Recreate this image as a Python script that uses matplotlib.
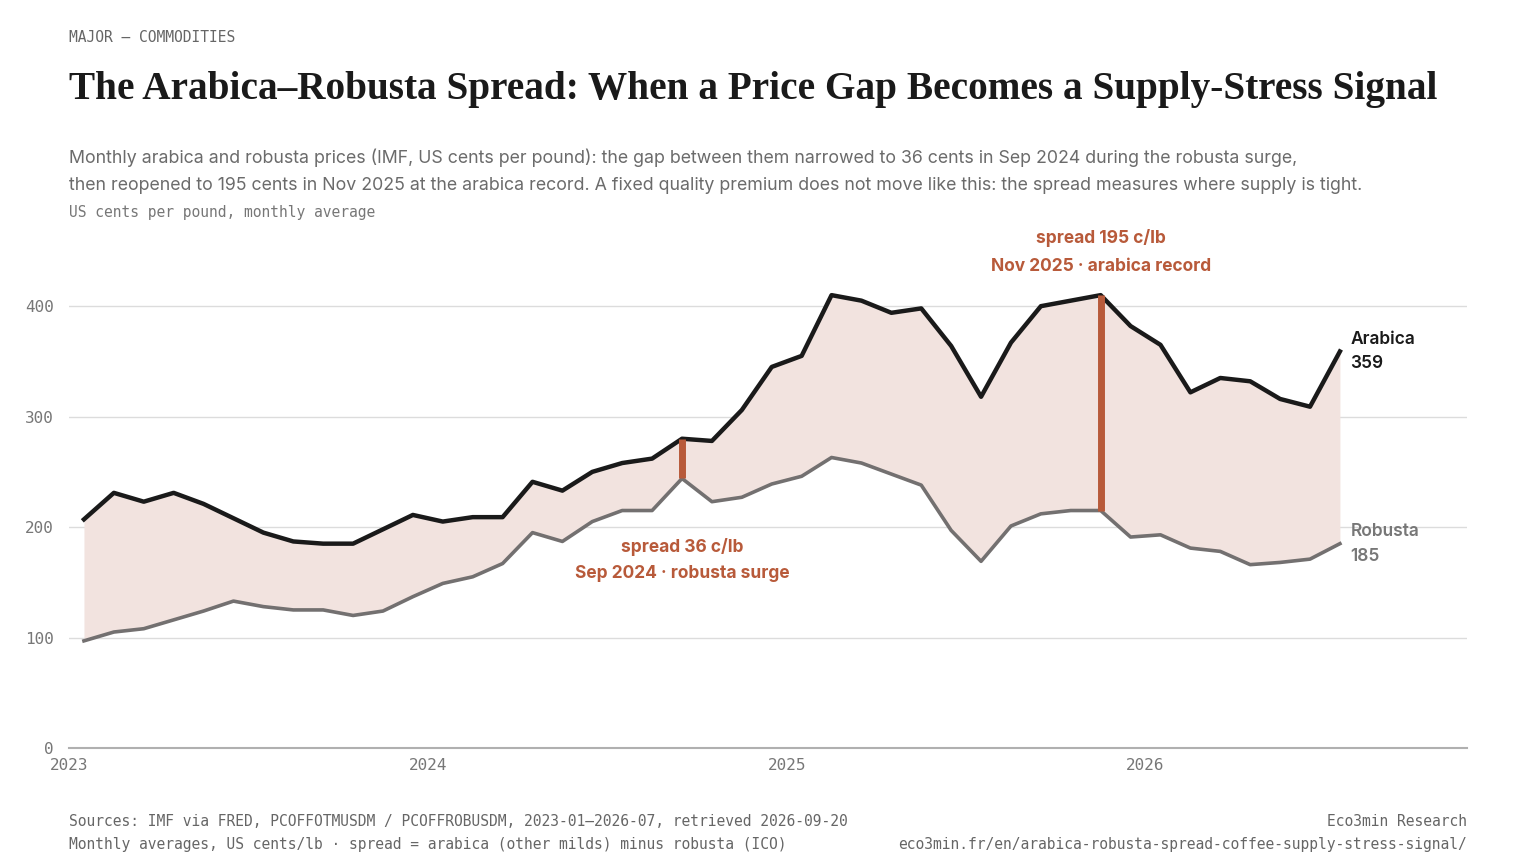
import matplotlib
matplotlib.use("Agg")
import matplotlib.pyplot as plt
import numpy as np

months = [f"{y}-{m:02d}" for y in (2023, 2024, 2025, 2026) for m in range(1, 13)][:43]
arabica = [207, 231, 223, 231, 221, 208, 195, 187, 185, 185, 198, 211,
           205, 209, 209, 241, 233, 250, 258, 262, 280, 278, 306, 345,
           355, 410, 405, 394, 398, 364, 318, 367, 400, 405, 410, 382,
           365, 322, 335, 332, 316, 309, 359]
robusta = [97, 105, 108, 116, 124, 133, 128, 125, 125, 120, 124, 137,
           149, 155, 167, 195, 187, 205, 215, 215, 244, 223, 227, 239,
           246, 263, 258, 248, 238, 197, 169, 201, 212, 215, 215, 191,
           193, 181, 178, 166, 168, 171, 185]
year_labels = ["2023", "2024", "2025", "2026"]
yticks = [0, 100, 200, 300, 400]
ann_low = 20   # Sep 2024
ann_high = 34  # Nov 2025

RUST = "#b85a3a"
SANS = ["Inter", "DejaVu Sans"]
MONO = ["DejaVu Sans Mono"]

fig = plt.figure(figsize=(15.36, 8.64), dpi=100)
ax = fig.add_axes([69/1536, 116/864, (1467-69)/1536, (748-262)/864])
x = np.arange(len(arabica)) + 0.5
a = np.array(arabica); r = np.array(robusta)
ax.fill_between(x, r, a, color="#f2e3df", lw=0)
ax.plot(x, r, color="#737070", lw=2.6, solid_joinstyle="round")
ax.plot(x, a, color="#1a1a1a", lw=3.2, solid_joinstyle="round")
for i in (ann_low, ann_high):
    ax.plot([x[i], x[i]], [r[i], a[i]], color=RUST, lw=5, solid_capstyle="butt")

ax.set_xlim(0, 46.75)
ax.set_ylim(0, 440)
ax.set_yticks(yticks)
ax.set_xticks([0, 12, 24, 36])
ax.set_xticklabels(year_labels)
ax.grid(axis="y", color="#dcdcdc", lw=1)
ax.set_axisbelow(True)
for s in ("left", "right", "top"):
    ax.spines[s].set_visible(False)
ax.spines["bottom"].set_color("#b0b0b0")
ax.spines["bottom"].set_linewidth(1.5)
ax.tick_params(length=0, labelsize=11.5, colors="#777777")
ax.tick_params(axis="y", pad=11)
ax.tick_params(axis="x", pad=7)
for t in ax.get_yticklabels() + ax.get_xticklabels():
    t.set_family(MONO)

i = ann_low
ax.text(x[i], r[i] - 62, f"spread {a[i]-r[i]} c/lb", ha="center", va="center", color=RUST,
        fontsize=12.5, fontweight="bold", family=SANS)
ax.text(x[i], r[i] - 86, "Sep 2024 · robusta surge", ha="center", va="center", color=RUST,
        fontsize=12.5, fontweight="bold", family=SANS)
i = ann_high
ax.text(x[i], a[i] + 52, f"spread {a[i]-r[i]} c/lb", ha="center", va="center", color=RUST,
        fontsize=12.5, fontweight="bold", family=SANS)
ax.text(x[i], a[i] + 26, "Nov 2025 · arabica record", ha="center", va="center", color=RUST,
        fontsize=12.5, fontweight="bold", family=SANS)

ax.text(x[-1] + 0.35, a[-1] + 0, f"Arabica\n{a[-1]}", ha="left", va="center", color="#1a1a1a",
        fontsize=12.5, fontweight="semibold", family=SANS, linespacing=1.6)
ax.text(x[-1] + 0.35, r[-1] + 0, f"Robusta\n{r[-1]}", ha="left", va="center", color="#777777",
        fontsize=12.5, fontweight="semibold", family=SANS, linespacing=1.6)

fig.text(69/1536, 1-38/864, "MAJOR — COMMODITIES", family=MONO, fontsize=10.5, color="#666666", va="center")
fig.text(69/1536, 1-90/864, "The Arabica–Robusta Spread: When a Price Gap Becomes a Supply-Stress Signal",
         family=["Liberation Serif", "DejaVu Serif"], fontweight="bold", fontsize=28.3, color="#1a1a1a", va="center")
fig.text(69/1536, 1-171/864,
         "Monthly arabica and robusta prices (IMF, US cents per pound): the gap between them narrowed to 36 cents in Sep 2024 during the robusta surge,\n"
         "then reopened to 195 cents in Nov 2025 at the arabica record. A fixed quality premium does not move like this: the spread measures where supply is tight.",
         family=SANS, fontsize=12.8, color="#6b6b6b", va="center", linespacing=1.75)
fig.text(69/1536, 1-212/864, "US cents per pound, monthly average", family=MONO, fontsize=10.5, color="#777777", va="center")
fig.text(69/1536, 1-821/864, "Sources: IMF via FRED, PCOFFOTMUSDM / PCOFFROBUSDM, 2023-01–2026-07, retrieved 2026-09-20",
         family=MONO, fontsize=10.5, color="#666666", va="center")
fig.text(69/1536, 1-845/864, "Monthly averages, US cents/lb · spread = arabica (other milds) minus robusta (ICO)",
         family=MONO, fontsize=10.5, color="#666666", va="center")
fig.text(1467/1536, 1-821/864, "Eco3min Research", family=MONO, fontsize=10.5, color="#666666", va="center", ha="right")
fig.text(1467/1536, 1-845/864, "eco3min.fr/en/arabica-robusta-spread-coffee-supply-stress-signal/",
         family=MONO, fontsize=10.5, color="#666666", va="center", ha="right")

fig.savefig("out.png", dpi=100, facecolor="white")
